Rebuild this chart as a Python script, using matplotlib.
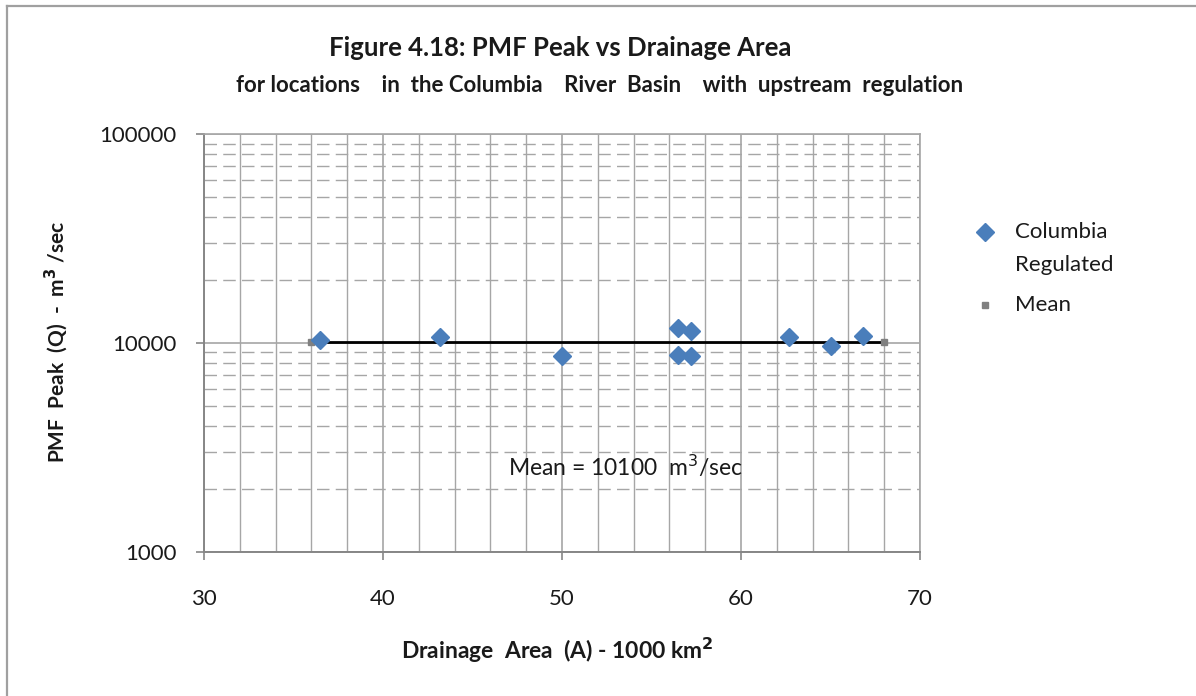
import matplotlib
matplotlib.use("Agg")
import matplotlib.pyplot as plt
from matplotlib.lines import Line2D
from matplotlib.ticker import LogLocator, MultipleLocator, NullFormatter, FixedLocator

plt.rcParams['font.family'] = ['Lato', 'DejaVu Sans']

# Data
area = [36.5, 43.2, 50.0, 56.5, 57.2, 56.5, 57.2, 62.7, 65.0, 66.8]
peak = [10300, 10700, 8600, 11800, 11400, 8700, 8600, 10600, 9700, 10800]
mean_x = [36, 68]
mean_y = [10100, 10100]
x_ticks = [30, 40, 50, 60, 70]
y_ticks = [1000, 10000, 100000]
y_tick_labels = ["1000", "10000", "100000"]
series_labels = ["Columbia\nRegulated", "Mean"]

blue = "#4A7EBB"
grid_c = "#a6a6a6"
axis_c = "#868686"
txt_c = "#1a1a1a"

fig = plt.figure(figsize=(11.96, 6.96), dpi=100)
ax = fig.add_axes([204/1196, 1-551.5/696, (920-204)/1196, (551.5-134)/696])

ax.set_yscale('log')
ax.set_xlim(30, 70)
ax.set_ylim(1000, 100000)

ax.xaxis.set_major_locator(FixedLocator(x_ticks))
ax.xaxis.set_minor_locator(MultipleLocator(2))
ax.yaxis.set_major_locator(FixedLocator(y_ticks))
ax.yaxis.set_minor_locator(LogLocator(base=10, subs=range(2, 10)))
ax.yaxis.set_minor_formatter(NullFormatter())
ax.set_yticklabels(y_tick_labels)
ax.set_xticklabels([str(v) for v in x_ticks])

ax.grid(which='major', axis='both', color=grid_c, lw=1.2)
ax.grid(which='minor', axis='x', color=grid_c, lw=1.0)
ax.grid(which='minor', axis='y', color=grid_c, lw=1.0, linestyle=(0, (9, 4.5)))
ax.set_axisbelow(True)

for s in ['top', 'right']:
    ax.spines[s].set_color(grid_c)
    ax.spines[s].set_linewidth(1.2)
for s in ['left', 'bottom']:
    ax.spines[s].set_color(axis_c)
    ax.spines[s].set_linewidth(1.4)

ax.tick_params(which='major', direction='out', length=6, width=1.2, color=axis_c,
               labelsize=16, labelcolor=txt_c)
ax.tick_params(which='minor', length=0)
ax.tick_params(axis='x', pad=21)
ax.tick_params(axis='y', pad=14)

# Mean line
ax.plot(mean_x, mean_y, color='black', lw=2.0, zorder=3)
ax.plot(mean_x, mean_y, linestyle='none', marker='s', markersize=4,
        color='#808080', zorder=4)

# Points
ax.plot(area, peak, linestyle='none', marker='D', markersize=8.8,
        color=blue, markeredgecolor=blue, zorder=5)

ax.text(47.0, 2550, "Mean = 10100  m$^3$/sec", fontsize=16.5, color=txt_c,
        va='center', ha='left', zorder=6)

ax.set_xlabel("Drainage  Area  (A) - 1000 km$^\\mathbf{2}$", fontsize=16.5,
              fontweight='bold', color=txt_c)
ax.xaxis.set_label_coords((557-204)/716, -(636-551.5)/417.5)
ax.set_ylabel("PMF  Peak  (Q)  -  m$^\\mathbf{3}$ /sec", fontsize=15,
              fontweight='bold', color=txt_c)
ax.yaxis.set_label_coords((70-204)/716, (551.5-342)/417.5)

fig.text(560/1196, 1-48/696, "Figure 4.18: PMF Peak vs Drainage Area",
         ha='center', va='center', fontsize=18.5, fontweight='bold', color=txt_c)
fig.text(600/1196, 1-86/696,
         "for locations    in  the Columbia    River  Basin    with  upstream  regulation",
         ha='center', va='center', fontsize=16, fontweight='bold', color=txt_c)

# Legend (drawn manually to match placement)
fig.add_artist(Line2D([985/1196], [1-232/696], transform=fig.transFigure,
                      linestyle='none', marker='D', markersize=8.8, color=blue))
fig.add_artist(Line2D([985/1196], [1-305/696], transform=fig.transFigure,
                      linestyle='none', marker='s', markersize=4, color='#808080'))
fig.text(1015/1196, 1-232/696, series_labels[0].split("\n")[0], ha='left', va='center',
         fontsize=16, color=txt_c)
fig.text(1015/1196, 1-265/696, series_labels[0].split("\n")[1], ha='left', va='center',
         fontsize=16, color=txt_c)
fig.text(1015/1196, 1-305/696, series_labels[1], ha='left', va='center',
         fontsize=16, color=txt_c)

# Outer frame lines (left and top)
fig.add_artist(Line2D([6.5/1196, 6.5/1196], [0, 1-5.5/696], transform=fig.transFigure,
                      color='#a0a0a0', lw=1.6))
fig.add_artist(Line2D([6.5/1196, 1], [1-5.5/696, 1-5.5/696], transform=fig.transFigure,
                      color='#a0a0a0', lw=1.6))

fig.savefig("out.png", dpi=100, facecolor='white')
